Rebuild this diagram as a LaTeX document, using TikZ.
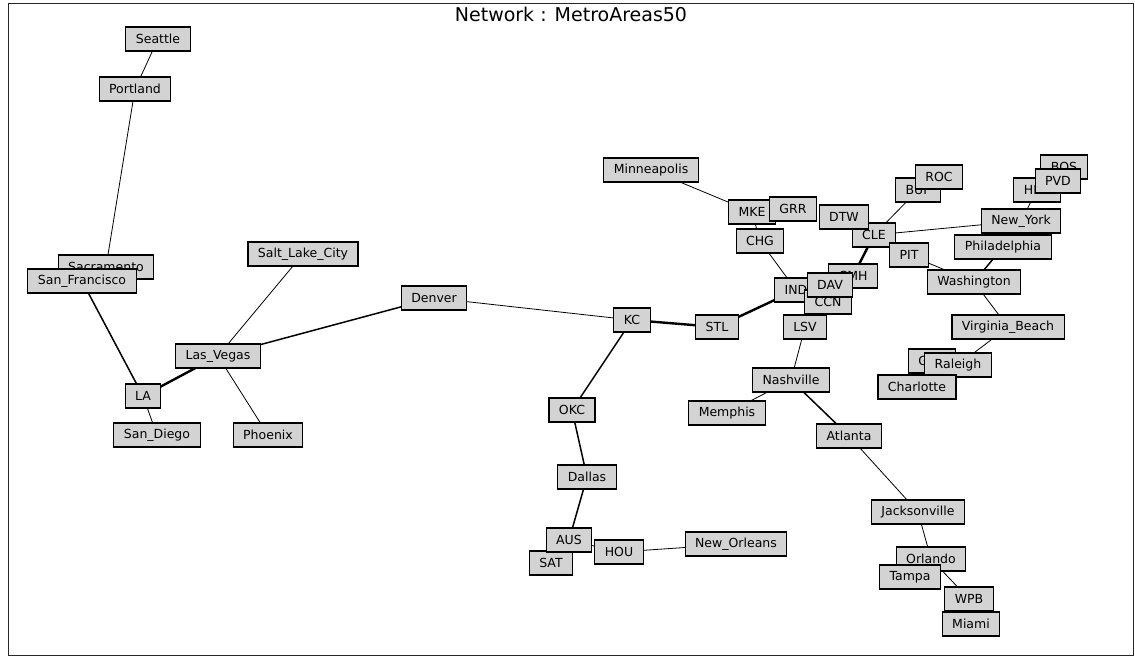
\documentclass[tikz,border=0pt]{standalone}
\usepackage{fontspec}
\setmainfont{DejaVu Sans}
\usepackage{tikz}
\usetikzlibrary{backgrounds}
\definecolor{boxgray}{RGB}{211,211,211}
\definecolor{framegray}{RGB}{40,40,40}

\tikzset{
  city/.style={draw=black, line width=1.1pt, fill=boxgray,
               minimum height=24pt, inner xsep=10pt, inner ysep=2pt,
               font=\fontsize{12.5}{14}\selectfont},
  link/.style={line width=0.8pt},
  midlink/.style={line width=1.5pt},
  heavylink/.style={line width=2.4pt}
}

\begin{document}
\begin{tikzpicture}[x=1pt, y=-1pt]
  \useasboundingbox (0,0) rectangle (1135,656);
  \draw[framegray, line width=0.8pt] (8,3) rectangle (1133,655);
  \node[font=\fontsize{19}{21}\selectfont] (title) at (571,14) {Network : MetroAreas50};

  % west coast
  \node[city] (sea) at (158,39) {Seattle};
  \node[city] (pdx) at (135,89) {Portland};
  \node[city] (sac) at (106,267) {Sacramento};
  \node[city] (sfo) at (82,281) {San\_Francisco};
  \node[city] (la) at (143,396) {LA};
  \node[city] (san) at (157,435) {San\_Diego};
  \node[city] (las) at (218,356) {Las\_Vegas};
  \node[city] (phx) at (268,435) {Phoenix};
  \node[city] (slc) at (303,254) {Salt\_Lake\_City};
  \node[city] (den) at (434,298) {Denver};

  % central
  \node[city] (kc) at (632,320) {KC};
  \node[city] (stl) at (717,327) {STL};
  \node[city] (okc) at (572,410) {OKC};
  \node[city] (dal) at (587,477) {Dallas};
  \node[city] (sat) at (551,563) {SAT};
  \node[city] (aus) at (569,540) {AUS};
  \node[city] (hou) at (619,552) {HOU};
  \node[city] (msy) at (736,544) {New\_Orleans};
  \node[city] (msp) at (651,170) {Minneapolis};
  \node[city] (mke) at (752,212) {MKE};
  \node[city] (grr) at (793,209) {GRR};
  \node[city] (chg) at (760,241) {CHG};
  \node[city] (ind) at (796,290) {IND};
  \node[city] (cmh) at (853,276) {CMH};
  \node[city] (ccn) at (828,302) {CCN};
  \node[city] (day) at (830,285) {DAV};
  \node[city] (lsv) at (805,327) {LSV};

  % great lakes and northeast
  \node[city] (cle) at (874,235) {CLE};
  \node[city] (dtw) at (844,217) {DTW};
  \node[city] (pit) at (909,255) {PIT};
  \node[city] (buf) at (918,190) {BUF};
  \node[city] (roc) at (939,177) {ROC};
  \node[city] (bos) at (1064,167) {BOS};
  \node[city] (hfd) at (1037,190) {HFD};
  \node[city] (pvd) at (1058,181) {PVD};
  \node[city] (nyc) at (1021,221) {New\_York};
  \node[city] (phl) at (1003,247) {Philadelphia};
  \node[city] (was) at (974,282) {Washington};
  \node[city] (vab) at (1008,327) {Virginia\_Beach};

  % southeast
  \node[city] (gso) at (932,361) {GSO};
  \node[city] (ral) at (958,365) {Raleigh};
  \node[city] (clt) at (917,387) {Charlotte};
  \node[city] (bna) at (791,380) {Nashville};
  \node[city] (mem) at (727,413) {Memphis};
  \node[city] (atl) at (849,436) {Atlanta};
  \node[city] (jax) at (918,512) {Jacksonville};
  \node[city] (orl) at (931,559) {Orlando};
  \node[city] (tpa) at (910,577) {Tampa};
  \node[city] (wpb) at (969,599) {WPB};
  \node[city] (mia) at (971,624) {Miami};

  % links, behind the boxes
  \begin{scope}[on background layer]
    \draw[link] (sea.center) -- (pdx.center);
    \draw[link] (pdx.center) -- (sac.center);
    \draw[midlink] (sfo.center) -- (la.center);
    \draw[link] (la.center) -- (san.center);
    \draw[heavylink] (la.center) -- (las.center);
    \draw[link] (las.center) -- (slc.center);
    \draw[link] (las.center) -- (phx.center);
    \draw[midlink] (las.center) -- (den.center);
    \draw[link] (den.center) -- (kc.center);
    \draw[heavylink] (kc.center) -- (stl.center);
    \draw[midlink] (kc.center) -- (okc.center);
    \draw[midlink] (okc.center) -- (dal.center);
    \draw[midlink] (dal.center) -- (aus.center);
    \draw[link] (aus.center) -- (hou.center);
    \draw[link] (hou.center) -- (msy.center);
    \draw[heavylink] (stl.center) -- (ind.center);
    \draw[link] (msp.center) -- (mke.center);
    \draw[link] (mke.center) -- (chg.center);
    \draw[link] (chg.center) -- (ind.center);
    \draw[heavylink] (cle.center) -- (cmh.center);
    \draw[link] (cle.center) -- (buf.center);
    \draw[link] (cle.center) -- (nyc.center);
    \draw[link] (hfd.center) -- (nyc.center);
    \draw[link] (pit.center) -- (was.center);
    \draw[midlink] (phl.center) -- (was.center);
    \draw[link] (was.center) -- (vab.center);
    \draw[link] (vab.center) -- (ral.center);
    \draw[link] (lsv.center) -- (bna.center);
    \draw[link] (bna.center) -- (mem.center);
    \draw[midlink] (bna.center) -- (atl.center);
    \draw[link] (atl.center) -- (jax.center);
    \draw[link] (jax.center) -- (orl.center);
    \draw[link] (orl.center) -- (wpb.center);
  \end{scope}
\end{tikzpicture}
\end{document}
